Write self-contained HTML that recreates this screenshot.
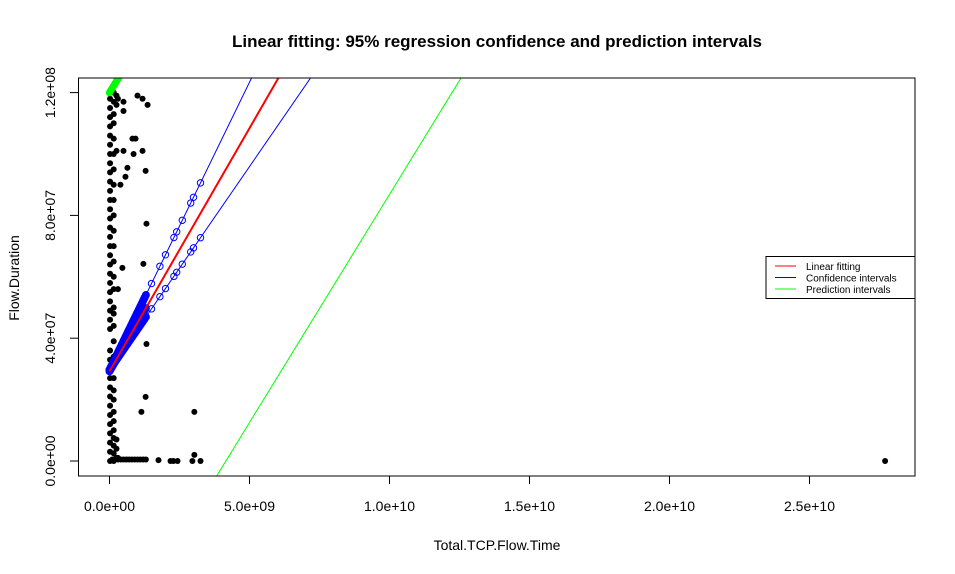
<!DOCTYPE html>
<html><head><meta charset="utf-8">
<style>
body{margin:0;background:#fff;}
svg{display:block;font-family:"Liberation Sans",Arial,sans-serif;}
</style></head>
<body>
<svg id="chart" width="955" height="574" viewBox="0 0 955 574" xmlns="http://www.w3.org/2000/svg">
<text x="497" y="47" text-anchor="middle" font-size="17" font-weight="bold">Linear fitting: 95% regression confidence and prediction intervals</text>
<text x="497" y="550" text-anchor="middle" font-size="14">Total.TCP.Flow.Time</text>
<text transform="translate(19,278) rotate(-90)" text-anchor="middle" font-size="14">Flow.Duration</text>
<defs><clipPath id="pc"><rect x="78.5" y="78" width="836.5" height="398"/></clipPath></defs>
<g id="axes"></g>
<g id="marks" clip-path="url(#pc)"></g>
<rect x="78.5" y="78" width="836.5" height="398" fill="none" stroke="#000" stroke-width="1"/>
<g>
<rect x="766" y="256.5" width="149" height="42" fill="#fff" stroke="#000"/>
<line x1="775" y1="266" x2="796" y2="266" stroke="#f00"/>
<line x1="775" y1="277.5" x2="796" y2="277.5" stroke="#00f"/>
<line x1="775" y1="289" x2="796" y2="289" stroke="#0f0"/>
<text x="806" y="270" font-size="10">Linear fitting</text>
<text x="806" y="281.5" font-size="10">Confidence intervals</text>
<text x="806" y="293" font-size="10">Prediction intervals</text>
</g>
</svg>
<script>
// units: x in 1e9, y in 1e7
const xTicks=[0,5,10,15,20,25];
const xTickLabels=["0.0e+00","5.0e+09","1.0e+10","1.5e+10","2.0e+10","2.5e+10"];
const yTicks=[0,4,8,12];
const yTickLabels=["0.0e+00","4.0e+07","8.0e+07","1.2e+08"];
const scatterX=[1.0,1.18,1.36,0.5,0.5,0.82,0.93,0.5,0.86,1.18,1.29,0.64,0.57,0.39,1.32,1.21,0.46,1.32,1.29,1.14,3.03,3.03,1.75,2.18,2.28,2.43,2.96,3.25,27.7,
 0.02,0.02,0.02,0.02,0.02,0.02,0.02,0.02,0.02,0.02,0.02,0.02,0.02,0.02,0.02,0.02,0.02,0.02,0.02,0.02,0.02,0.02,0.02,0.02,0.02,0.02,0.02,0.02,0.02,0.02,0.02,0.02,0.02,0.02,0.02,0.02,0.02,0.02,0.02,0.02,
 0.15,0.15,0.15,0.15,0.15,0.15,0.15,0.15,0.15,0.15,0.15,0.15,0.15,0.15,0.15,0.15,0.15,0.15,0.15,0.15,0.15,0.15,0.15,0.15,0.15,0.15,0.15,0.15,0.15,0.15,
 0.25,0.25,0.25,0.25,0.25,0.25,0.3,0.3,0.3,
 0.1,0.2,0.3,0.4,0.5,0.6,0.7,0.8,0.9,1.0,1.1,1.2,1.3];
const scatterY=[11.9,11.8,11.6,11.7,11.4,10.5,10.5,10.1,10.0,10.1,9.45,9.55,9.26,9.0,7.73,6.42,6.29,3.81,2.09,1.6,1.6,0.2,0.03,0,0,0,0,0,0,
 0,0.3,0.6,0.9,1.2,1.5,1.8,2.1,2.4,2.7,3.0,3.3,4.3,4.6,4.9,5.2,5.5,5.8,6.1,6.4,6.7,7.0,7.3,7.6,7.9,8.2,8.5,8.8,9.1,9.4,9.7,10.0,10.3,10.6,10.9,11.2,11.5,11.8,12.0,3.6,
 0,0.25,0.5,0.75,1.0,1.3,1.6,2.0,2.3,2.7,4.4,5.0,5.6,6.0,6.5,7.0,7.5,8.0,8.5,9.0,9.5,10.0,10.5,11.0,11.3,11.7,12.0,3.4,3.9,4.8,
 0.1,0.4,0.7,11.6,11.9,10.1,0.1,11.8,5.6,
 0.05,0.05,0.05,0.05,0.05,0.05,0.05,0.05,0.05,0.05,0.05,0.05,0.05];
const fitLine=[[0,2.92],[6.3,12.9]];
const confUpper=[[0,2.97],[5.3,12.9]];
const confLower=[[0,2.97],[7.5,12.9]];
const predUpper=[[0,12.0],[0.6,12.9]];
const predLower=[[3.74,-0.62],[12.57,12.5]];
const confPointX=[0,0.05,0.1,0.15,0.2,0.25,0.3,0.35,0.4,0.45,0.5,0.55,0.6,0.65,0.7,0.75,0.8,0.85,0.9,0.95,1.0,1.05,1.1,1.15,1.2,1.25,1.3,1.5,1.8,2.0,2.3,2.4,2.6,2.9,3.0,3.25];
const bandX=[0,0.03,0.06,0.09,0.12,0.15,0.18,0.21,0.24,0.27,0.3,0.33,0.36,0.39,0.42,0.45,0.48,0.51,0.54,0.57,0.6,0.63,0.66,0.69,0.72,0.75,0.78,0.81,0.84,0.87,0.9,0.93,0.96,0.99,1.02,1.05,1.08,1.11,1.14,1.17,1.2,1.23,1.26,1.3];
const predPointX=[0,0.05,0.1,0.15,0.2,0.25,0.3,0.35,0.4];

const X=v=>109.5+v*28;
const Y=v=>461-v*30.7;
const NS="http://www.w3.org/2000/svg";
const axes=document.getElementById('axes'), marks=document.getElementById('marks');
function mk(tag,attrs,parent){const e=document.createElementNS(NS,tag);for(const k in attrs)e.setAttribute(k,attrs[k]);parent.appendChild(e);return e;}
xTicks.forEach((t,i)=>{
 const l=mk('line',{x1:X(t),x2:X(t),y1:476,y2:484,stroke:'#000'},axes);
 
 
 const tx=mk('text',{x:X(t),y:511,'text-anchor':'middle','font-size':'14'},axes);
 
 
 tx.textContent=xTickLabels[i];
});
yTicks.forEach((t,i)=>{
 const l=mk('line',{x1:70,x2:78.5,y1:Y(t),y2:Y(t),stroke:'#000'},axes);
 
 
 const tx=mk('text',{transform:`translate(55,${Y(t)}) rotate(-90)`,'text-anchor':'middle','font-size':'14'},axes);
 
 
 tx.textContent=yTickLabels[i];
});
scatterX.forEach((x,i)=>{
 const c=mk('circle',{cx:X(x),cy:Y(scatterY[i]),r:3,fill:'#000'},marks);
 
 
});
function line(pts,color,w,name){
 const l=mk('line',{x1:X(pts[0][0]),y1:Y(pts[0][1]),x2:X(pts[1][0]),y2:Y(pts[1][1]),stroke:color,'stroke-width':w},marks);
 
 
}
function at(pts,x){return pts[0][1]+(pts[1][1]-pts[0][1])*(x-pts[0][0])/(pts[1][0]-pts[0][0]);}
line(confUpper,'#00f',1,'confidence-upper-line');
line(confLower,'#00f',1,'confidence-lower-line');
confPointX.forEach(x=>{
 [confUpper,confLower].forEach(p=>{
  const c=mk('circle',{cx:X(x),cy:Y(at(p,x)),r:3.2,fill:'none',stroke:'#00f','stroke-width':1},marks);
  
  
 });
});
bandX.forEach(x=>{
 [confUpper,fitLine,confLower].forEach(p=>{
  const c=mk('circle',{cx:X(x),cy:Y(at(p,x)),r:3.5,fill:'#00f',stroke:'#00f','stroke-width':1},marks);
  
  
 });
});
line(fitLine,'#f00',2,'fit-line');
line(predUpper,'#0f0',1,'prediction-upper-line');
line(predLower,'#0f0',1,'prediction-lower-line');
predPointX.forEach(x=>{
 const c=mk('circle',{cx:X(x),cy:Y(at(predUpper,x)),r:3.2,fill:'#0f0',stroke:'#0f0'},marks);
 
 
});
</script>
</body></html>
